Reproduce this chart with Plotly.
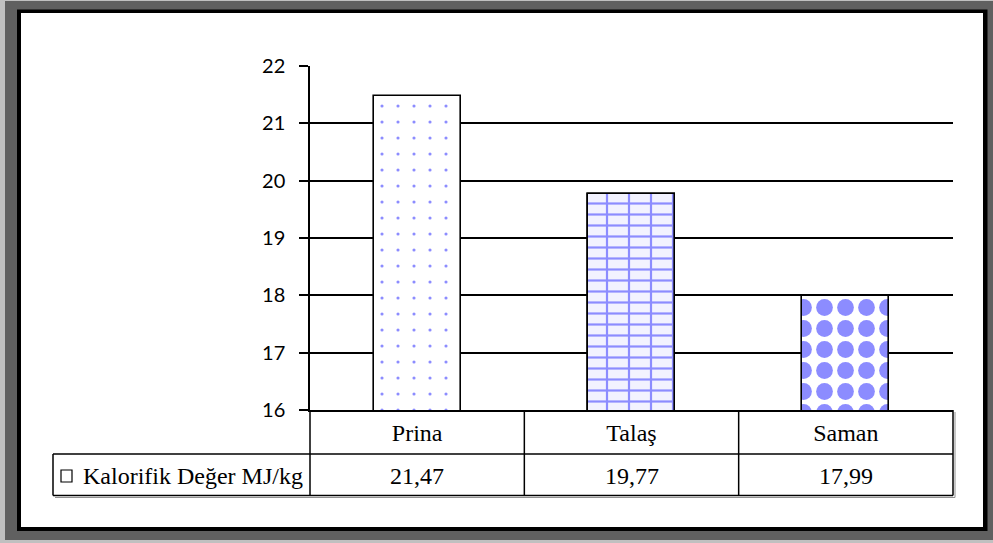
import plotly.graph_objects as go

# --- data ---------------------------------------------------------------
categories = ["Prina", "Talaş", "Saman"]
values = [21.47, 19.77, 17.99]
series_name = "Kalorifik Değer MJ/kg"
y_ticks = [16, 17, 18, 19, 20, 21, 22]

# --- canvas geometry (pixels) --------------------------------------------
W, H = 993, 543
ML, MR, MT, MB = 310, 40, 66, 133
PW = W - ML - MR
PH = H - MT - MB


def px_x(px):
    """pixel column -> paper x"""
    return (px - ML) / PW


def px_y(py):
    """pixel row -> paper y"""
    return (H - MB - py) / PH


BLUE = "#8c8cff"
SERIF = "Liberation Serif"
SANS = "Lato"
TABLE_FONT = dict(family=SERIF, size=24, color="black")

fig = go.Figure()

# main series: dotted / brick rows / diamonds
fig.add_trace(go.Bar(
    x=categories, y=values, name=series_name, width=0.405,
    showlegend=False,
    marker=dict(
        color="white",
        line=dict(color="black", width=1.6),
        pattern=dict(
            shape=[".", "-", "."],
            size=[16, 11, 21],
            solidity=[0.03, 0.2, 0.5],
            fgcolor=BLUE,
            bgcolor=["white", "#f2f2ff", "white"],
            fillmode="replace",
        ),
    ),
    hovertemplate="%{x}: %{y}<extra></extra>",
))

# vertical brick joints on the second bar
fig.add_trace(go.Bar(
    x=categories[1:2], y=values[1:2], width=0.405, showlegend=False,
    marker=dict(
        color="rgba(0,0,0,0)",
        line=dict(color="black", width=1.6),
        pattern=dict(shape="|", size=22, solidity=0.1, fgcolor=BLUE,
                     bgcolor="rgba(0,0,0,0)", fillmode="replace"),
    ),
    hoverinfo="skip",
))

shapes = []
# outer frame: light rim, dark grey band, black line, white page
shapes.append(dict(type="rect", xref="paper", yref="paper", layer="below",
                   x0=px_x(5), x1=px_x(993), y0=px_y(540), y1=px_y(1),
                   fillcolor="#606060", line=dict(width=0)))
shapes.append(dict(type="rect", xref="paper", yref="paper", layer="below",
                   x0=px_x(17), x1=px_x(987.5), y0=px_y(531), y1=px_y(9.5),
                   fillcolor="black", line=dict(width=0)))
shapes.append(dict(type="rect", xref="paper", yref="paper", layer="below",
                   x0=px_x(21), x1=px_x(983), y0=px_y(527), y1=px_y(13),
                   fillcolor="white", line=dict(width=0)))

# data table under the axis
row_mid, row_bot = px_y(454), px_y(495.5)
left = px_x(53)
line_k = dict(color="black", width=1.5)
line_g = dict(color="#909090", width=1)
n = len(categories)
shapes.append(dict(type="line", xref="paper", yref="paper", x0=left, x1=1,
                   y0=row_mid, y1=row_mid, line=line_k))
shapes.append(dict(type="line", xref="paper", yref="paper", x0=left, x1=1,
                   y0=row_bot, y1=row_bot, line=line_k))
shapes.append(dict(type="line", xref="paper", yref="paper", x0=left, x1=left,
                   y0=row_mid, y1=row_bot, line=line_k))
for k in range(n + 1):
    shapes.append(dict(type="line", xref="paper", yref="paper", x0=k / n, x1=k / n,
                       y0=0, y1=row_bot, line=line_k))
# soft shadow along the table's bottom-right edge
shapes.append(dict(type="line", xref="paper", yref="paper", x0=left + 2 / PW,
                   x1=1 + 2 / PW, y0=row_bot - 2 / PH, y1=row_bot - 2 / PH, line=line_g))
shapes.append(dict(type="line", xref="paper", yref="paper", x0=1 + 2 / PW,
                   x1=1 + 2 / PW, y0=-2 / PH, y1=row_bot - 2 / PH, line=line_g))
# series key in the table's first column
shapes.append(dict(type="rect", xref="paper", yref="paper",
                   x0=px_x(61), x1=px_x(72), y0=px_y(482), y1=px_y(470),
                   fillcolor="white", line=dict(color="black", width=1.2)))

annotations = [dict(
    x=px_x(81), xref="paper", y=px_y(476), yref="paper",
    text=series_name, showarrow=False, xanchor="left", yanchor="middle",
    font=TABLE_FONT,
)]
# value row
for cat, v in zip(categories, values):
    annotations.append(dict(
        x=cat, xref="x", y=px_y(475.5), yref="paper",
        text=f"{v:.2f}".replace(".", ","), showarrow=False,
        xanchor="center", yanchor="middle",
        font=TABLE_FONT,
    ))

fig.update_layout(
    width=W, height=H,
    margin=dict(l=ML, r=MR, t=MT, b=MB, pad=0),
    paper_bgcolor="#c0c0c0",
    plot_bgcolor="white",
    barmode="overlay",
    bargap=0,
    shapes=shapes,
    annotations=annotations,
    showlegend=False,
    xaxis=dict(
        type="category", categoryorder="array", categoryarray=categories,
        range=[-0.5, n - 0.5],
        showgrid=False, showline=True, linecolor="black", linewidth=1.5,
        ticks="", ticklabelstandoff=0,
        tickfont=TABLE_FONT,
        fixedrange=True,
    ),
    yaxis=dict(
        range=[y_ticks[0], y_ticks[-1]], tickvals=y_ticks,
        showgrid=True, gridcolor="black", gridwidth=1.5,
        showline=True, linecolor="black", linewidth=1.5,
        ticks="outside", ticklen=9, tickwidth=1.5, tickcolor="black",
        ticklabelstandoff=10,
        tickfont=dict(family=SANS, size=20, color="black"),
        zeroline=False, fixedrange=True,
    ),
)

fig.write_html("out.html")
